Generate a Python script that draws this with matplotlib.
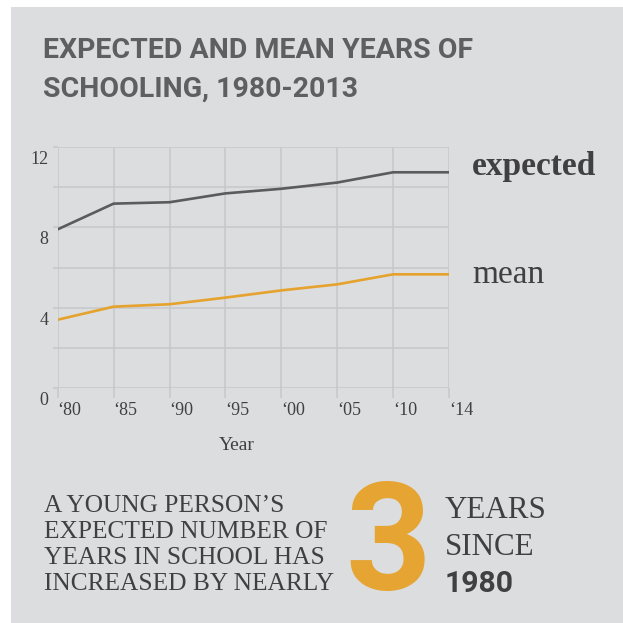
import matplotlib
matplotlib.use('Agg')
import matplotlib.pyplot as plt
from matplotlib.patches import Rectangle
from matplotlib.transforms import ScaledTranslation

# data
year_labels = ["\u201880", "\u201885", "\u201890", "\u201895", "\u201800", "\u201805", "\u201810", "\u201814"]
expected = [7.9, 9.18, 9.25, 9.69, 9.92, 10.23, 10.74, 10.74]
mean = [3.40, 4.05, 4.17, 4.50, 4.86, 5.16, 5.66, 5.66]

W = 623
BG = '#dcdddf'
GRID = '#c6c7c9'
DARK = '#5b5b5d'
ORANGE = '#e5a22c'
TXT = '#404040'
SERIF = 'Liberation Serif'
SANS = 'Roboto'


def px(x, y):
	# pixel coords (top-left origin) -> figure fraction
	return x / W, 1 - y / W


fig = plt.figure(figsize=(6.23, 6.23), dpi=100)
fig.patch.set_facecolor('white')
fig.patches.append(Rectangle(px(11, W), 1, 1 - 7 / W, transform=fig.transFigure,
                             facecolor=BG, edgecolor='none', zorder=-5))

# title
title_kw = dict(fontfamily=SANS, fontweight='bold', fontsize=20.5, color='#5f5f61', va='baseline')
fig.text(*px(43, 58.3), "EXPECTED AND MEAN YEARS OF", **title_kw)
fig.text(*px(43, 96.7), "SCHOOLING, 1980-2013", **title_kw)

# chart
x0, x1, ytop, ybot = 57.7, 449, 147, 388
ax = fig.add_axes([x0 / W, 1 - ybot / W, (x1 - x0) / W, (ybot - ytop) / W])
ax.set_facecolor('none')
ax.set_zorder(2)
xs = list(range(len(year_labels)))
ax.plot(xs, expected, color=DARK, lw=1.9, solid_capstyle='round', zorder=3)
ax.plot(xs, mean, color=ORANGE, lw=1.9, solid_capstyle='round', zorder=3)

ax.set_xlim(0, len(year_labels) - 1)
ax.set_ylim(0, 12)
ax.set_xticks(xs)
ax.set_xticklabels(year_labels, ha='left')
yt = list(range(0, 13, 2))
ax.set_yticks(yt)
ax.set_yticklabels([str(v) if v % 4 == 0 else '' for v in yt])
ax.grid(True, color=GRID, lw=1.1)
for s in ax.spines.values():
	s.set_visible(False)
ax.tick_params(axis='x', length=7.2, width=1.1, color=GRID, pad=3, labelsize=13, labelcolor=TXT)
ax.tick_params(axis='y', length=3.6, width=1.1, color=GRID, pad=3.2, labelsize=13, labelcolor=TXT)
for lbl in ax.get_xticklabels() + ax.get_yticklabels():
	lbl.set_fontfamily(SERIF)
for lbl in ax.get_yticklabels():
	lbl.set_verticalalignment('top')
	lbl.set_transform(lbl.get_transform() + ScaledTranslation(0, -3 / 72, fig.dpi_scale_trans))

fig.text(*px(237, 450), "Year", fontfamily=SERIF, fontsize=14, color=TXT, ha='center', va='baseline')

# series labels
fig.text(*px(472, 175), "expected", fontfamily=SERIF, fontweight='bold', fontsize=24, color=TXT, va='baseline')
fig.text(*px(472, 282.7), "mean", fontfamily=SERIF, fontsize=24, color=TXT, va='baseline')

# bottom callout
body = ["A YOUNG PERSON\u2019S", "EXPECTED NUMBER OF", "YEARS IN SCHOOL HAS", "INCREASED BY NEARLY"]
for i, line in enumerate(body):
	fig.text(*px(44, 512.3 + i * 25.9), line, fontfamily=SERIF, fontsize=18.3, color=TXT, va='baseline')

fig.text(*px(345, 590), "3", fontfamily=SANS, fontweight='bold', fontsize=108, color='#e6a433', va='baseline')
fig.text(*px(445, 518.3), "YEARS", fontfamily=SERIF, fontsize=22.3, color=TXT, va='baseline')
fig.text(*px(445, 555), "SINCE", fontfamily=SERIF, fontsize=22.3, color=TXT, va='baseline')
fig.text(*px(445, 591.7), "1980", fontfamily=SANS, fontweight='bold', fontsize=21.7, color=TXT, va='baseline')

fig.savefig('out.png', dpi=100, facecolor=fig.get_facecolor())
